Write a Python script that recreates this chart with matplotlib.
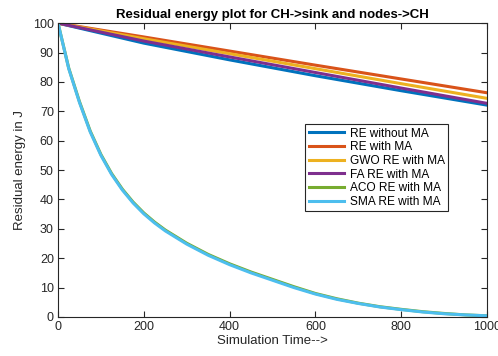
import matplotlib
matplotlib.use("Agg")
import matplotlib.pyplot as plt

plt.rcParams['font.family'] = ['Liberation Sans', 'DejaVu Sans']

# linear-ish series (sampled every 200)
t_lin = [0, 200, 400, 600, 800, 1000]
re_without_ma = [100, 93.2, 87.5, 82.1, 77.0, 72.1]
re_with_ma = [100, 95.3, 90.5, 85.7, 81.0, 76.3]
gwo_re_with_ma = [100, 94.7, 89.6, 84.5, 79.4, 74.4]
fa_re_with_ma = [100, 93.9, 88.5, 83.2, 77.9, 72.7]

# decaying series
t_dec = [0, 25, 50, 75, 100, 125, 150, 175, 200, 225, 250, 300, 350, 400, 450,
         500, 550, 600, 650, 700, 750, 800, 850, 900, 950, 1000]
aco_re_with_ma = [100, 84.7, 73.3, 63.3, 55.3, 48.8, 43.5, 39.1, 35.4, 32.3, 29.6,
                  25.1, 21.3, 18.1, 15.3, 12.8, 10.3, 8.0, 6.2, 4.7, 3.5, 2.6, 1.8,
                  1.2, 0.7, 0.4]
sma_re_with_ma = [100, 84.5, 73.0, 63.0, 55.0, 48.5, 43.2, 38.8, 35.1, 32.0, 29.3,
                  24.8, 21.0, 17.8, 15.0, 12.5, 10.0, 7.8, 6.0, 4.6, 3.4, 2.5, 1.7,
                  1.1, 0.7, 0.4]

labels = ["RE without MA", "RE with MA", "GWO RE with MA", "FA RE with MA",
          "ACO RE with MA", "SMA RE with MA"]
colors = ["#0072BD", "#D95319", "#EDB120", "#7E2F8E", "#77AC30", "#4DBEEE"]

fig = plt.figure(figsize=(4.98, 3.56), dpi=100)
ax = fig.add_axes([0.1165, 0.1096, 0.8615, 0.8254])

series = [(t_lin, re_without_ma), (t_lin, re_with_ma), (t_lin, gwo_re_with_ma),
          (t_lin, fa_re_with_ma), (t_dec, aco_re_with_ma), (t_dec, sma_re_with_ma)]
for (x, y), lab, c in zip(series, labels, colors):
    ax.plot(x, y, color=c, lw=2.2, label=lab, solid_joinstyle='round')

ax.set_xlim(0, 1000)
ax.set_ylim(0, 100)
ax.set_xticks([0, 200, 400, 600, 800, 1000])
ax.set_yticks(range(0, 101, 10))
axc = "#262626"
for s in ax.spines.values():
    s.set_color(axc)
    s.set_linewidth(0.8)
ax.tick_params(direction='in', length=4, width=0.8, color=axc, labelcolor=axc,
               labelsize=9, top=True, right=True, pad=3)

ax.set_title("Residual energy plot for CH->sink and nodes->CH", fontsize=9.5,
             fontweight='bold', pad=4)
ax.set_xlabel("Simulation Time-->", fontsize=9.5, color=axc, labelpad=1)
ax.set_ylabel("Residual energy in J", fontsize=9.5, color=axc, labelpad=5)

leg = ax.legend(loc='upper left', bbox_to_anchor=(0.5755, 0.657), fontsize=8.6,
                frameon=True, fancybox=False, edgecolor=axc, framealpha=1,
                handlelength=3.0, handletextpad=0.45, borderpad=0.3,
                labelspacing=0.14, borderaxespad=0)
leg.get_frame().set_linewidth(0.8)

fig.savefig("out.png", dpi=100)
